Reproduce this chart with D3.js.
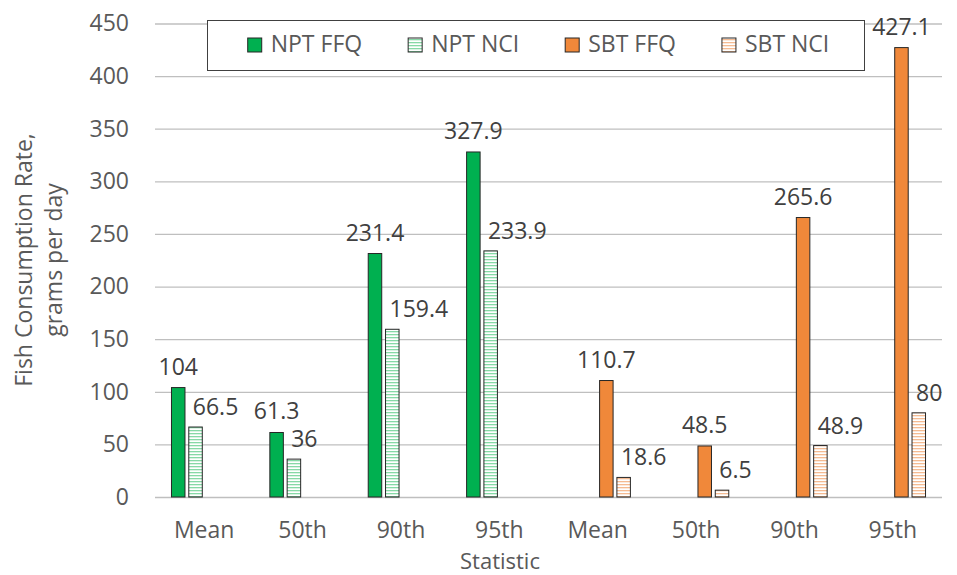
<!DOCTYPE html>
<html>
<head>
<meta charset="utf-8">
<script src="https://cdnjs.cloudflare.com/ajax/libs/d3/7.8.5/d3.min.js"></script>
<style>
  html, body { margin: 0; padding: 0; background: #fff; }
  svg { display: block; font-family: 'Open Sans', sans-serif; }
</style>
</head>
<body>
<div id="chart"></div>
<script>
// chart data
const categories = ['Mean', '50th', '90th', '95th', 'Mean', '50th', '90th', '95th'];
const seriesNames = ['NPT FFQ', 'NPT NCI', 'SBT FFQ', 'SBT NCI'];
const nptFfq = [104, 61.3, 231.4, 327.9, null, null, null, null];
const nptNci = [66.5, 36, 159.4, 233.9, null, null, null, null];
const sbtFfq = [null, null, null, null, 110.7, 48.5, 265.6, 427.1];
const sbtNci = [null, null, null, null, 18.6, 6.5, 48.9, 80];
const yTicks = [0, 50, 100, 150, 200, 250, 300, 350, 400, 450];

const style = {
  green: '#00B050',
  greenStripe: '#86d9a6',
  orange: '#F0883A',
  orangeStripe: '#f5bb92',
  outline: '#262626',
  grid: { color: '#BFBFBF', width: 1.3 },
  text: '#595959',
  label: '#404040',
  fontSize: 23,
};

const W = 957;
const H = 575;
const plot = { left: 155, right: 942, top: 23.5, bottom: 497 };

const svg = d3.select('#chart').append('svg')
  .attr('width', W)
  .attr('height', H);

// stripe patterns for the NCI bars
const defs = svg.append('defs');
function addStripes(id, color) {
  const p = defs.append('pattern')
    .attr('id', id)
    .attr('patternUnits', 'userSpaceOnUse')
    .attr('width', 6)
    .attr('height', 3);
  p.append('rect').attr('width', 6).attr('height', 3).attr('fill', '#fff');
  p.append('rect').attr('y', 1).attr('width', 6).attr('height', 1.3).attr('fill', color);
}
addStripes('stripe-green', style.greenStripe);
addStripes('stripe-orange', style.orangeStripe);

const fills = [style.green, 'url(#stripe-green)', style.orange, 'url(#stripe-orange)'];
const values = [nptFfq, nptNci, sbtFfq, sbtNci];

const x0 = d3.scaleBand()
  .domain(d3.range(categories.length))
  .range([plot.left, plot.right])
  .paddingInner(0.335)
  .paddingOuter(0.1675);

const x1 = d3.scaleBand()
  .domain(d3.range(seriesNames.length))
  .range([0, x0.bandwidth()])
  .paddingInner(0.22);

const y = d3.scaleLinear()
  .domain([0, 450])
  .range([plot.bottom, plot.top]);

// y gridlines + labels
const yAxis = d3.axisLeft(y)
  .tickValues(yTicks)
  .tickSize(-(plot.right - plot.left))
  .tickPadding(26);

svg.append('g')
  .attr('class', 'y-axis')
  .attr('transform', `translate(${plot.left},0)`)
  .call(yAxis)
  .call((g) => g.select('.domain').remove())
  .call((g) => g.selectAll('line')
    .attr('stroke', style.grid.color)
    .attr('stroke-width', style.grid.width))
  .call((g) => g.selectAll('text')
    .attr('font-size', style.fontSize)
    .attr('font-family', 'Open Sans, sans-serif')
    .attr('fill', style.text));

// x axis labels
const xAxis = d3.axisBottom(x0)
  .tickSize(0)
  .tickPadding(0)
  .tickFormat((i) => categories[i]);

svg.append('g')
  .attr('class', 'x-axis')
  .attr('transform', `translate(0,${plot.bottom})`)
  .call(xAxis)
  .call((g) => g.select('.domain').remove())
  .call((g) => g.selectAll('text')
    .attr('y', 41)
    .attr('dy', 0)
    .attr('font-size', style.fontSize)
    .attr('font-family', 'Open Sans, sans-serif')
    .attr('fill', style.text));

// bars
const barData = [];
categories.forEach((c, i) => {
  values.forEach((vals, s) => {
    if (vals[i] != null) barData.push({ cat: i, series: s, value: vals[i] });
  });
});

svg.append('g').selectAll('rect')
  .data(barData)
  .join('rect')
  .attr('x', (d) => x0(d.cat) + x1(d.series))
  .attr('y', (d) => y(d.value))
  .attr('width', x1.bandwidth())
  .attr('height', (d) => y(0) - y(d.value))
  .attr('fill', (d) => fills[d.series])
  .attr('stroke', style.outline)
  .attr('stroke-width', 1);

// data labels: FFQ centred on the bar, NCI set off to the right
svg.append('g').selectAll('text')
  .data(barData)
  .join('text')
  .attr('x', (d) => {
    const bx = x0(d.cat) + x1(d.series);
    return d.series % 2 === 0 ? bx + x1.bandwidth() / 2 : bx + 4;
  })
  .attr('y', (d) => y(d.value) - (d.series % 2 === 0 ? 13 : 12))
  .attr('text-anchor', (d) => (d.series % 2 === 0 ? 'middle' : 'start'))
  .attr('font-size', style.fontSize)
  .attr('fill', style.label)
  .text((d) => d.value);

// axis titles
const yTitle = svg.append('text')
  .attr('transform', 'translate(32,260) rotate(-90)')
  .attr('text-anchor', 'middle')
  .attr('font-size', style.fontSize)
  .attr('fill', style.text);
yTitle.append('tspan').attr('x', 0).attr('y', 0).text('Fish Consumption Rate,');
yTitle.append('tspan').attr('x', 0).attr('y', 30).text('grams per day');

svg.append('text')
  .attr('x', 500)
  .attr('y', 568.5)
  .attr('text-anchor', 'middle')
  .attr('font-size', 22)
  .attr('fill', style.text)
  .text('Statistic');

// legend
const legendBox = { x: 207, y: 20, w: 657, h: 50 };
const legend = svg.append('g').attr('class', 'legend');
legend.append('rect')
  .attr('x', legendBox.x + 0.5)
  .attr('y', legendBox.y + 0.5)
  .attr('width', legendBox.w)
  .attr('height', legendBox.h)
  .attr('fill', '#fff')
  .attr('stroke', '#404040')
  .attr('stroke-width', 1);

const items = legend.selectAll('g.item')
  .data(seriesNames)
  .join('g')
  .attr('class', 'item');
items.append('rect')
  .attr('width', 14)
  .attr('height', 14)
  .attr('fill', (d, i) => fills[i])
  .attr('stroke', style.outline)
  .attr('stroke-width', 1);
items.append('text')
  .attr('x', 23)
  .attr('y', 14)
  .attr('font-size', style.fontSize)
  .attr('fill', style.text)
  .text((d) => d);

const gap = 46;
const widths = [];
items.each(function () {
  widths.push(23 + d3.select(this).select('text').node().getComputedTextLength());
});
const total = d3.sum(widths) + gap * (widths.length - 1);
let cx = legendBox.x + (legendBox.w - total) / 2 + 3;
items.attr('transform', (d, i) => {
  const t = `translate(${cx},38)`;
  cx += widths[i] + gap;
  return t;
});
</script>
</body>
</html>
